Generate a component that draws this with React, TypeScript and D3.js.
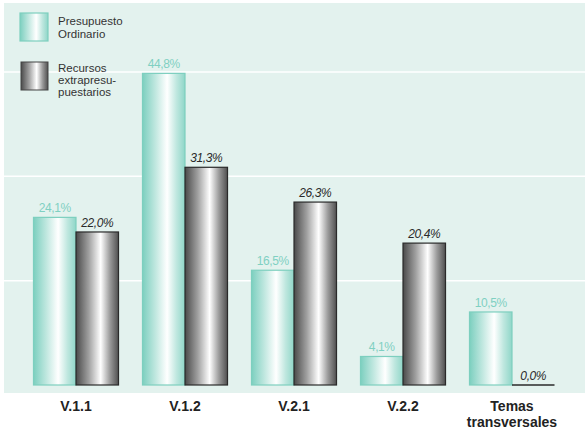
import React from "react";
import * as d3 from "d3";

const categories = ["V.1.1", "V.1.2", "V.2.1", "V.2.2", "Temas|transversales"];
const ordinario = [24.1, 44.8, 16.5, 4.1, 10.5];
const extra = [22.0, 31.3, 26.3, 20.4, 0.0];
const gridTicks = [15, 30, 45];
const seriesNames = [["Presupuesto", "Ordinario"], ["Recursos", "extrapresu-", "puestarios"]];

const W = 585;
const H = 436;
const baseY = 385;
const fmt = (v: number) => v.toFixed(1).replace(".", ",") + "%";

export default function App() {
  const x = d3.scaleBand<string>().domain(categories).range([21.5, 566.5]).paddingInner(0.22).paddingOuter(0.11);
  const y = d3.scaleLinear().domain([0, 45]).range([baseY, 72]);
  const bw = x.bandwidth() / 2;
  const teal = "#7dcfbf";
  const font = "'Liberation Sans', Arial, sans-serif";
  return (
    <svg width={W} height={H} style={{ position: "absolute", left: 0, top: 0, display: "block", fontFamily: font }}>
      <defs>
        <linearGradient id="gTeal" x1="0" x2="1" y1="0" y2="0">
          <stop offset="0" stopColor="#7ccfbf" />
          <stop offset="0.3" stopColor="#bfe7df" />
          <stop offset="0.58" stopColor="#ffffff" />
          <stop offset="0.8" stopColor="#bfe7df" />
          <stop offset="1" stopColor="#8fd6c8" />
        </linearGradient>
        <linearGradient id="gGrey" x1="0" x2="1" y1="0" y2="0">
          <stop offset="0" stopColor="#4a4a4a" />
          <stop offset="0.3" stopColor="#a0a0a0" />
          <stop offset="0.58" stopColor="#ffffff" />
          <stop offset="0.8" stopColor="#9a9a9a" />
          <stop offset="1" stopColor="#505050" />
        </linearGradient>
      </defs>
      <rect x={4} y={3} width={W - 4} height={393 - 3} fill="#e3f2ee" />
      {gridTicks.map((t) => (
        <line key={t} x1={4} x2={W} y1={y(t)} y2={y(t)} stroke="#ffffff" strokeWidth={1.5} />
      ))}
      {categories.map((c, i) => {
        const x0 = x(c)!;
        const v1 = ordinario[i];
        const v2 = extra[i];
        return (
          <g key={c}>
            <rect x={x0} y={y(v1)} width={bw} height={baseY - y(v1)} fill="url(#gTeal)" stroke={teal} strokeWidth={1.2} />
            {v2 > 0 ? (
              <rect x={x0 + bw} y={y(v2)} width={bw} height={baseY - y(v2)} fill="url(#gGrey)" stroke="#2a2a2a" strokeWidth={1.2} />
            ) : (
              <line x1={x0 + bw} x2={x0 + 2 * bw} y1={baseY} y2={baseY} stroke="#2a2a2a" strokeWidth={1.3} />
            )}
            <text x={x0 + bw / 2} y={y(v1) - 5} textAnchor="middle" fontSize={12} fill="#7fd0c2" letterSpacing={-0.4}>
              {fmt(v1)}
            </text>
            <text x={x0 + bw * 1.5} y={y(v2) - 5} textAnchor="middle" fontSize={12} fontStyle="italic" fill="#2a2a2a" letterSpacing={-0.4}>
              {fmt(v2)}
            </text>
            {c.split("|").map((ln, k) => (
              <text key={k} x={x0 + bw} y={411 + k * 16} textAnchor="middle" fontSize={14} fontWeight="bold" fill="#222">
                {ln}
              </text>
            ))}
          </g>
        );
      })}
      <rect x={20} y={13} width={28} height={28} fill="url(#gTeal)" stroke={teal} strokeWidth={1.2} />
      <rect x={21} y={62} width={27} height={28} fill="url(#gGrey)" stroke="#444" strokeWidth={1} />
      {seriesNames[0].map((s, k) => (
        <text key={s} x={58} y={25 + k * 13} fontSize={11.5} fill="#333">{s}</text>
      ))}
      {seriesNames[1].map((s, k) => (
        <text key={s} x={58} y={72 + k * 12} fontSize={11.5} fill="#333">{s}</text>
      ))}
    </svg>
  );
}
